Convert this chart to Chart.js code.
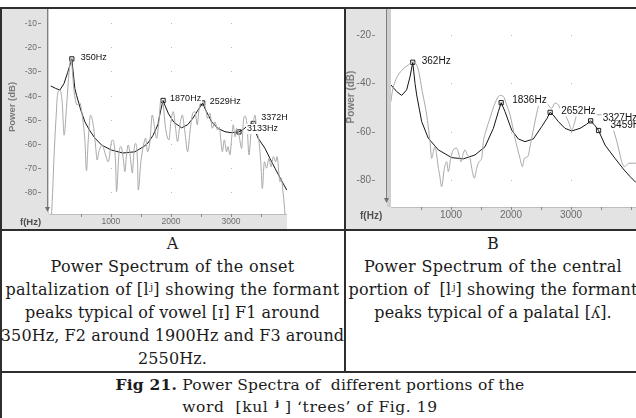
<!DOCTYPE html>
<html>
<head>
<meta charset="utf-8">
<script src="https://cdn.jsdelivr.net/npm/chart.js@4.4.1/dist/chart.umd.min.js"></script>
<style>
  body { margin: 0; width: 636px; height: 418px; overflow: hidden; background: #fff; position: relative; }
  canvas { position: absolute; }
  .ln { position: absolute; background: #2e2e2e; }
  .cap { position: absolute; display: flex; justify-content: center; white-space: nowrap;
         font-family: "DejaVu Serif", serif; font-size: 16px; letter-spacing: 0.1px; color: #1b1b1b;
         height: 23px; line-height: 23px; }
  .fig { height: 22px; line-height: 22px; font-size: 15.5px; letter-spacing: 0.2px; }
</style>
</head>
<body>
<canvas id="chartA" width="285" height="220" style="left:2px;top:9px"></canvas>
<canvas id="chartB" width="290" height="220" style="left:346px;top:9px"></canvas>

<div class="ln" style="left:0;top:7px;width:636px;height:2px"></div>
<div class="ln" style="left:0;top:7px;width:2px;height:411px"></div>
<div class="ln" style="left:344px;top:7px;width:2px;height:366px"></div>
<div class="ln" style="left:0;top:229px;width:636px;height:2px"></div>
<div class="ln" style="left:0;top:371px;width:636px;height:2px"></div>

<div class="cap" style="left:0;width:345px;top:232px"><span>A</span></div>
<div class="cap" style="left:0;width:345px;top:255px"><span style="letter-spacing:0.3px">Power Spectrum of the onset</span></div>
<div class="cap" style="left:0;width:345px;top:278px"><span style="letter-spacing:0.3px">paltalization of [lʲ] showing the formant</span></div>
<div class="cap" style="left:0;width:345px;top:301px"><span>peaks typical of vowel [ɪ] F1 around</span></div>
<div class="cap" style="left:0;width:345px;top:324px"><span>350Hz, F2 around 1900Hz and F3 around</span></div>
<div class="cap" style="left:0;width:345px;top:347px"><span>2550Hz.</span></div>

<div class="cap" style="left:346px;width:294px;top:232px"><span>B</span></div>
<div class="cap" style="left:346px;width:294px;top:255px"><span style="letter-spacing:0.3px">Power Spectrum of the central</span></div>
<div class="cap" style="left:346px;width:294px;top:278px"><span>portion of &nbsp;[lʲ] showing the formant</span></div>
<div class="cap" style="left:346px;width:294px;top:301px"><span>peaks typical of a palatal [ʎ].</span></div>

<div class="cap fig" style="left:0;width:640px;top:374px"><span><b>Fig 21.</b> Power Spectra of &nbsp;different portions of the</span></div>
<div class="cap fig" style="left:0;width:620px;top:396px"><span style="letter-spacing:0.6px">word &nbsp;[kul&nbsp;<b>ʲ</b>&nbsp;] ‘trees’ of Fig. 19</span></div>

<script>
// panel A : onset palatalization, FFT spectrum (grey) + LPC envelope (black)
var aFftHz = [0, 30, 55, 90, 111, 150, 189, 222, 261, 300, 333, 389, 439, 483, 522, 567, 594, 622, 661, 706,
  744, 772, 800, 856, 911, 956, 1011, 1028, 1078, 1094, 1133, 1167, 1206, 1233, 1261, 1289, 1333, 1356, 1389, 1411,
  1444, 1456, 1500, 1539, 1578, 1611, 1650, 1689, 1722, 1761, 1800, 1833, 1872, 1911, 1967, 2000, 2039, 2078, 2111, 2150,
  2189, 2233, 2278, 2317, 2356, 2400, 2439, 2467, 2500, 2539, 2578, 2611, 2650, 2689, 2733, 2778, 2806, 2833, 2856, 2889,
  2928, 2950, 2983, 3011, 3039, 3067, 3094, 3133, 3178, 3206, 3233, 3267, 3300, 3333, 3372, 3400, 3428, 3467, 3500, 3522,
  3556, 3594, 3633, 3667, 3706, 3744, 3767, 3817, 3833, 3872, 3900];
var aFftDb = [-95, -80, -64.5, -48, -39.8, -37.7, -42.5, -56.3, -45, -31.5, -24.6, -38.4, -43.9, -43, -48, -58.3, -71, -59, -48, -52,
  -60.4, -66.6, -63.2, -60.4, -64.5, -67.3, -59, -58.3, -67.3, -79.7, -64.5, -61, -65.8, -71.4, -64.5, -60.4, -67.3, -72, -61.8, -59.7,
  -67.3, -79, -67.3, -61, -57.6, -63.2, -59, -48, -52, -57.6, -50.8, -41.8, -43.9, -53.5, -58.3, -50.8, -46.6, -53.5, -59, -52,
  -48, -55, -63.2, -55, -48, -46.6, -52, -46, -42.8, -42.5, -45.3, -49.4, -47.3, -53.5, -50.8, -54.2, -53, -59, -63.2, -58.3,
  -63.2, -61, -64.5, -57.6, -52, -57, -53.5, -56.3, -61.8, -50.8, -48.4, -52, -64.5, -55.6, -50.8, -48, -54.2, -59, -68.7, -78.3,
  -67.3, -70, -65.9, -69.4, -65.2, -67.3, -65.2, -75.6, -74, -81, -89];
var aLpcHz = [0, 80, 150, 220, 280, 350, 400, 430, 500, 567, 650, 733, 850, 1011, 1200, 1400, 1550, 1617, 1700, 1783,
  1830, 1870, 1900, 1960, 2050, 2178, 2280, 2367, 2450, 2529, 2580, 2678, 2780, 2900, 3000, 3133, 3200, 3261, 3320, 3372,
  3411, 3450, 3567, 3650, 3733, 3830, 3928];
var aLpcDb = [-36, -37, -37.7, -35, -30.5, -24.8, -37, -40, -46, -50.8, -54.5, -57.5, -60.5, -62.5, -63.7, -63.2, -61, -59.6, -56.5, -52,
  -46, -42, -44, -47.5, -51, -53.3, -52, -49.3, -46, -43, -46, -50.8, -53.5, -54.9, -55.3, -55, -54, -52.8, -51.8, -51.5,
  -55, -57.5, -61.8, -66, -70, -74.5, -79];
var aPeakHz = [350, 1870, 2529, 3133, 3372];
var aPeakDb = [-24.8, -42, -43, -55, -51.5];
var aPeakText = ["350Hz", "1870Hz", "2529Hz", "3133Hz", "3372Hz"];
var aYTicks = [-10, -20, -30, -40, -50, -60, -70, -80];
var aXTicks = [1000, 2000, 3000];

// panel B : central portion of the lateral
var bFftHz = [0, 22, 67, 122, 206, 289, 356, 428, 470, 511, 594, 650, 678, 706, 733, 761, 789, 806, 844, 889,
  928, 956, 994, 1039, 1094, 1133, 1167, 1206, 1233, 1272, 1317, 1356, 1389, 1428, 1467, 1511, 1539, 1578, 1650, 1733,
  1817, 1872, 1928, 1983, 2067, 2150, 2189, 2222, 2278, 2333, 2400, 2456, 2511, 2594, 2678, 2733, 2789, 2845, 2900, 2967,
  3011, 3056, 3094, 3178, 3261, 3344, 3428, 3511, 3594, 3678, 3733, 3778, 3817, 3845, 3889, 3928, 3967, 4083];
var bFftDb = [-47.5, -43.4, -39.3, -36.5, -34, -32.4, -31.3, -32.4, -36, -42, -53, -64, -71, -68.2, -66.2, -69.6, -75.1, -77.1, -82.7, -75.1,
  -72.4, -76.5, -71, -67.5, -66.8, -69.6, -72.4, -68.9, -67.5, -69.6, -71, -76.5, -79.2, -75.1, -72.4, -71, -64.1, -60, -54.4, -48.2,
  -45, -45.4, -49, -53, -62.7, -71, -74.4, -71, -70.3, -64.1, -55.8, -49.6, -46.9, -48.2, -50.3, -48.2, -48.9, -51.7, -53, -56.5,
  -59.3, -56.5, -53, -51, -51, -51.7, -53, -53, -54.4, -57.2, -61.3, -65.5, -69.6, -72.4, -74.4, -73.7, -73, -73];
var bLpcHz = [0, 94, 178, 261, 320, 362, 400, 428, 511, 622, 789, 1011, 1206, 1400, 1567, 1706, 1789, 1836, 1900, 2011,
  2122, 2233, 2372, 2511, 2600, 2652, 2700, 2789, 2900, 3011, 3150, 3261, 3327, 3400, 3459, 3567, 3733, 3872, 3983, 4083];
var bLpcDb = [-40.7, -43.4, -45, -42.7, -37, -31.3, -40, -44.8, -55.8, -62.7, -67.5, -70.7, -71.2, -69.6, -66.2, -58.6, -51.7, -48, -51.7, -59.3,
  -63, -64.1, -63, -57.9, -54.5, -52, -53, -55.8, -58.6, -59.7, -58.6, -56.9, -55.5, -57.5, -59.5, -65.5, -71, -75.4, -78.5, -81];
var bPeakHz = [362, 1836, 2652, 3327, 3459];
var bPeakDb = [-31.3, -48, -52, -55.5, -59.5];
var bPeakText = ["362Hz", "1836Hz", "2652Hz", "3327Hz", "3459Hz"];
var bYTicks = [-20, -40, -60, -80];
var bXTicks = [1000, 2000, 3000];

toPoints = (xs, ys) => xs.map((v, i) => ({ x: v, y: ys[i] }));

// draws the Speech-Analyzer style frame: grey panel, axis arrow, tick labels, peak labels
const specDeco = {
  id: "specDeco",
  beforeDraw(chart, _args, o) {
    const { ctx, chartArea: ca } = chart;
    const x = chart.scales.x, y = chart.scales.y;
    ctx.save();
    ctx.fillStyle = "#e3e3e3";
    ctx.fillRect(0, 0, chart.width, chart.height);
    ctx.fillStyle = "#fff";
    ctx.fillRect(ca.left, ca.top, ca.right - ca.left, ca.bottom - ca.top);
    ctx.fillStyle = "#b9b9b9";
    o.xTicks.forEach((f) => {
      o.yTicks.forEach((d) => {
        ctx.fillRect(Math.round(x.getPixelForValue(f)), Math.round(y.getPixelForValue(d)), 1, 1);
      });
    });
    ctx.restore();
  },
  afterDatasetsDraw(chart, _args, o) {
    const { ctx, chartArea: ca } = chart;
    const x = chart.scales.x, y = chart.scales.y;
    ctx.save();

    // y axis line with arrow
    let ax = ca.left - o.axisGap + 0.5;
    ctx.fillStyle = "#cfcfcf";
    ctx.fillRect(ax + 0.5, 0, o.axisGap - 1, ca.bottom);
    ctx.strokeStyle = "#808080";
    ctx.lineWidth = 1;
    ctx.beginPath();
    ctx.moveTo(ax, 0);
    ctx.lineTo(ax, o.arrowTip - 3);
    ctx.stroke();
    ctx.fillStyle = "#707070";
    ctx.beginPath();
    ctx.moveTo(ax - 2.5, o.arrowTip - 5);
    ctx.lineTo(ax + 2.5, o.arrowTip - 5);
    ctx.lineTo(ax, o.arrowTip);
    ctx.closePath();
    ctx.fill();

    // y tick labels
    ctx.font = o.tickFont;
    ctx.fillStyle = "#6c6c6c";
    ctx.textAlign = "right";
    ctx.textBaseline = "middle";
    o.yTicks.forEach((d) => {
      let py = Math.round(y.getPixelForValue(d)) + 0.5;
      ctx.fillText(String(d), o.yLabelRight, py);
      ctx.beginPath();
      ctx.moveTo(o.yLabelRight + 1, py);
      ctx.lineTo(o.yLabelRight + 4, py);
      ctx.strokeStyle = "#8a8a8a";
      ctx.stroke();
    });

    // x axis
    ctx.strokeStyle = "#bdbdbd";
    ctx.beginPath();
    ctx.moveTo(ca.left, ca.bottom + 0.5);
    ctx.lineTo(ca.right, ca.bottom + 0.5);
    ctx.stroke();
    ctx.strokeStyle = "#8a8a8a";
    for (let f = 500; f < x.max; f += 500) {
      let px = Math.round(x.getPixelForValue(f)) + 0.5;
      ctx.beginPath();
      ctx.moveTo(px, ca.bottom);
      ctx.lineTo(px, ca.bottom + 3);
      ctx.stroke();
    }
    ctx.textAlign = "center";
    o.xTicks.forEach((f) => {
      ctx.fillText(String(f), x.getPixelForValue(f), ca.bottom + 8);
    });

    ctx.font = o.titleFont;
    ctx.fillStyle = "#4f4f4f";
    ctx.textAlign = "left";
    ctx.fillText("f(Hz)", o.fPos[0], o.fPos[1]);

    ctx.fillStyle = "#7a7a7a";
    ctx.translate(o.powerPos[0], o.powerPos[1]);
    ctx.rotate(-Math.PI / 2);
    ctx.textAlign = "center";
    ctx.fillText("Power (dB)", 0, 0);
    ctx.setTransform(1, 0, 0, 1, 0, 0);

    // formant labels on white boxes
    ctx.font = o.peakFont;
    ctx.textAlign = "left";
    o.peaks.forEach((p, i) => {
      let px = x.getPixelForValue(p.x) + o.labelDx[i];
      let py = y.getPixelForValue(p.y) + o.labelDy[i];
      let w = ctx.measureText(p.t).width;
      ctx.fillStyle = "#fff";
      ctx.fillRect(px - 1, py - 5, w + 2, 10);
      ctx.fillStyle = "#111";
      ctx.fillText(p.t, px, py);
    });
    ctx.restore();
  },
};

makeChart = (id, fft, lpc, peaks, xr, yr, deco) => {
  return new Chart(document.getElementById(id), {
    type: "scatter",
    data: {
      datasets: [
        { data: fft, showLine: true, borderColor: "#a9a9a9", borderWidth: 1, pointRadius: 0,
          cubicInterpolationMode: "monotone" },
        { data: lpc, showLine: true, borderColor: "#151515", borderWidth: 1, pointRadius: 0, tension: 0 },
        { data: peaks, showLine: false, pointStyle: "rect", pointRadius: 3, borderColor: "#222",
          backgroundColor: "#f4f4f4", borderWidth: 1 },
      ],
    },
    options: {
      responsive: false,
      animation: false,
      devicePixelRatio: 1,
      events: [],
      layout: { padding: deco.padding, autoPadding: false },
      scales: {
        x: { type: "linear", min: xr[0], max: xr[1], display: false },
        y: { type: "linear", min: yr[0], max: yr[1], display: false },
      },
      plugins: { legend: { display: false }, tooltip: { enabled: false }, specDeco: deco },
    },
    plugins: [specDeco],
  });
};

makeChart("chartA", toPoints(aFftHz, aFftDb), toPoints(aLpcHz, aLpcDb), toPoints(aPeakHz, aPeakDb),
  [-30, 3933], [-88.9, -4.2], {
    padding: { left: 47, top: 0, right: 0, bottom: 15 },
    xTicks: aXTicks, yTicks: aYTicks,
    axisGap: 2, arrowTip: 203, yLabelRight: 35,
    tickFont: "8.5px 'Liberation Sans', Arial, sans-serif",
    titleFont: "bold 9.5px 'Liberation Sans', Arial, sans-serif",
    peakFont: "9px 'Liberation Sans', Arial, sans-serif",
    fPos: [18, 213], powerPos: [10, 98],
    peaks: aPeakHz.map((f, i) => ({ x: f, y: aPeakDb[i], t: aPeakText[i] })),
    labelDx: [9, 7, 7, 8, 8], labelDy: [-1, -2, -1, -3, -6],
  });

makeChart("chartB", toPoints(bFftHz, bFftDb), toPoints(bLpcHz, bLpcDb), toPoints(bPeakHz, bPeakDb),
  [0, 4083], [-91.1, -9.3], {
    padding: { left: 45, top: 0, right: 0, bottom: 22 },
    xTicks: bXTicks, yTicks: bYTicks,
    axisGap: 5, arrowTip: 194, yLabelRight: 25,
    tickFont: "10px 'Liberation Sans', Arial, sans-serif",
    titleFont: "bold 10px 'Liberation Sans', Arial, sans-serif",
    peakFont: "10px 'Liberation Sans', Arial, sans-serif",
    fPos: [14, 207], powerPos: [5, 88],
    peaks: bPeakHz.map((f, i) => ({ x: f, y: bPeakDb[i], t: bPeakText[i] })),
    labelDx: [9, 11, 11, 12, 12], labelDy: [-1, -2, -1, -3, -5],
  });
</script>
</body>
</html>
